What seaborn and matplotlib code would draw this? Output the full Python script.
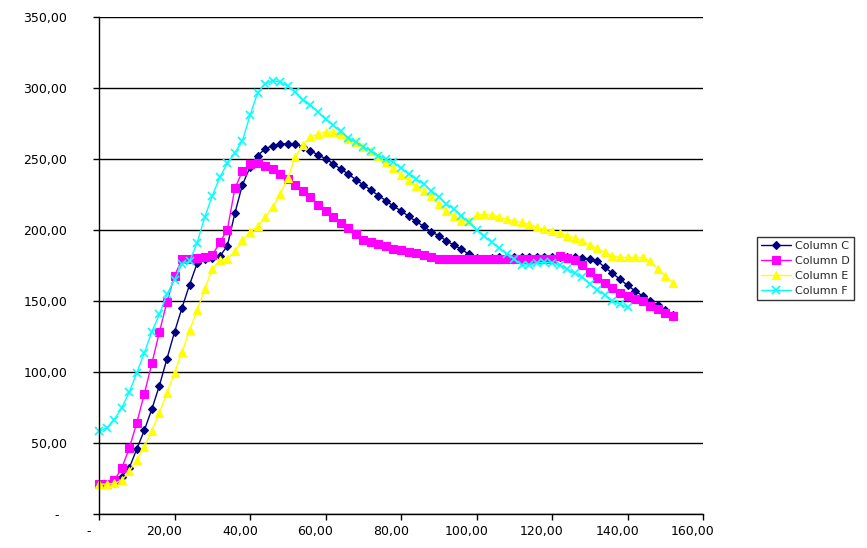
import matplotlib
matplotlib.use("Agg")
import matplotlib.pyplot as plt
from matplotlib.transforms import ScaledTranslation
import seaborn as sns
import pandas as pd

x_cde = [0, 2, 4, 6, 8, 10, 12, 14, 16, 18, 20, 22, 24, 26, 28, 30, 32, 34, 36, 38,
         40, 42, 44, 46, 48, 50, 52, 54, 56, 58, 60, 62, 64, 66, 68, 70, 72, 74, 76, 78,
         80, 82, 84, 86, 88, 90, 92, 94, 96, 98, 100, 102, 104, 106, 108, 110, 112, 114,
         116, 118, 120, 122, 124, 126, 128, 130, 132, 134, 136, 138, 140, 142, 144, 146,
         148, 150, 152]
x_f = x_cde[:71]

col_c = [21.3, 21.3, 22.2, 26.4, 32.3, 45.7, 58.9, 73.9, 90.4, 109.3, 128.1, 145.3, 161.5,
         176.6, 179.9, 180.2, 181.5, 188.8, 211.9, 231.9, 244.2, 252.4, 257.1, 259.5, 260.7,
         260.7, 260.7, 258.3, 255.9, 252.9, 250.3, 246.7, 243.0, 239.5, 235.5, 231.8, 228.2,
         224.2, 220.7, 216.7, 213.6, 209.6, 206.1, 202.5, 198.8, 196.0, 192.4, 189.4, 186.5,
         182.9, 180.1, 179.9, 180.3, 180.8, 181.0, 181.0, 181.0, 181.0, 181.0, 181.0, 181.0,
         181.0, 181.0, 180.7, 180.1, 179.4, 178.3, 173.6, 169.6, 165.3, 161.1, 157.1, 153.6,
         150.0, 147.2, 143.6, 140.1]
col_d = [21.3, 21.3, 23.7, 32.1, 46.2, 64.1, 84.6, 106.0, 128.1, 149.3, 167.7, 179.4, 179.9,
         180.4, 181.3, 182.2, 191.2, 200.2, 229.4, 241.4, 246.5, 247.0, 244.9, 243.0, 239.5,
         236.0, 231.7, 227.7, 223.0, 217.8, 213.6, 209.3, 204.9, 201.1, 197.1, 193.1, 191.2,
         190.0, 188.8, 186.9, 186.0, 184.6, 183.6, 182.4, 181.0, 179.8, 179.8, 179.8, 179.8,
         179.8, 179.8, 179.8, 179.8, 179.8, 179.8, 179.8, 179.8, 179.8, 179.8, 179.8, 179.8,
         182.0, 180.5, 179.0, 175.2, 170.5, 166.5, 162.9, 159.4, 155.8, 153.5, 151.6, 150.0,
         146.4, 144.1, 141.7, 139.4]
col_e = [21.0, 21.0, 21.5, 23.7, 30.0, 38.2, 47.1, 58.7, 71.2, 85.3, 99.4, 114.0, 129.5,
         143.6, 158.2, 172.3, 179.0, 179.9, 184.9, 192.9, 198.3, 202.5, 208.9, 216.0, 225.4,
         236.4, 251.5, 260.0, 265.4, 267.7, 269.0, 269.0, 267.8, 264.2, 261.9, 258.3, 255.9,
         252.0, 247.7, 243.5, 238.8, 235.3, 231.3, 227.7, 223.7, 218.3, 213.6, 210.1, 206.5,
         206.5, 210.5, 211.0, 210.5, 209.0, 207.7, 206.5, 205.3, 204.0, 202.0, 200.6, 199.4,
         197.8, 196.0, 194.5, 192.4, 189.4, 187.0, 184.2, 182.0, 180.7, 180.7, 180.7, 180.7,
         178.3, 172.5, 167.7, 162.9]
col_f = [58.2, 60.5, 66.5, 74.7, 85.7, 99.4, 113.5, 128.4, 140.6, 154.7, 165.0, 176.0, 178.0,
         191.0, 209.0, 224.0, 237.0, 247.0, 254.3, 263.0, 280.7, 296.5, 303.0, 305.2, 304.2,
         301.4, 297.2, 291.5, 288.0, 283.2, 278.0, 273.8, 269.4, 265.0, 261.9, 258.5, 255.9,
         252.4, 250.0, 247.7, 243.6, 239.5, 236.0, 232.4, 227.7, 223.5, 218.3, 214.8, 210.0,
         205.3, 200.3, 195.6, 191.4, 187.2, 183.2, 179.6, 175.4, 175.4, 176.8, 177.3, 176.8,
         175.4, 172.5, 169.5, 167.0, 161.8, 157.8, 154.3, 150.0, 147.7, 145.5]

series_names = ["Column C", "Column D", "Column E", "Column F"]
y_ticks = [0, 50, 100, 150, 200, 250, 300, 350]
x_ticks = [0, 20, 40, 60, 80, 100, 120, 140, 160]

sns.set_style("white")
plt.rcParams["font.family"] = ["DejaVu Sans"]

fig = plt.figure(figsize=(8.67, 5.48), dpi=100)
ax = fig.add_axes([99 / 867, 1 - 514 / 548, 604 / 867, 497 / 548])

styles = [
    dict(color="#000080", marker="D", markersize=4.2, mec="#000080", mew=0.8),
    dict(color="#FF00FF", marker="s", markersize=5.6, mec="#FF00FF", mew=0.8),
    dict(color="#FFFF00", marker="^", markersize=6.2, mec="#FFFF00", mew=0.8),
    dict(color="#00FFFF", marker="x", markersize=5.2, mec="#00FFFF", mew=1.2),
]
data = [(x_cde, col_c), (x_cde, col_d), (x_cde, col_e), (x_f, col_f)]

for name, (xs, ys), st in zip(series_names, data, styles):
    df = pd.DataFrame({"x": xs, "y": ys})
    sns.lineplot(data=df, x="x", y="y", ax=ax, label=name, linewidth=1.0,
                 color=st["color"], marker=st["marker"], markersize=st["markersize"],
                 markeredgecolor=st["mec"], markeredgewidth=st["mew"], clip_on=False)

ax.set_xlim(0, 160)
ax.set_ylim(0, 350)
ax.set_xlabel("")
ax.set_ylabel("")

def fmt(v):
    return "-" if v == 0 else f"{v:.2f}".replace(".", ",")

ax.set_yticks(y_ticks)
ax.set_yticklabels([("-  " if v == 0 else fmt(v)) for v in y_ticks])
ax.set_xticks(x_ticks)
ax.set_xticklabels([fmt(v) for v in x_ticks])

ax.yaxis.grid(True, color="black", linewidth=1.0)
ax.xaxis.grid(False)
ax.set_axisbelow(True)

for s in ["top", "right"]:
    ax.spines[s].set_visible(False)
for s in ["left", "bottom"]:
    ax.spines[s].set_color("black")
    ax.spines[s].set_linewidth(1.0)

ax.tick_params(axis="y", direction="out", length=4.3, width=1.0, color="black",
               pad=18.5, labelsize=9, labelcolor="black", left=True)
ax.tick_params(axis="x", direction="out", length=4.3, width=1.0, color="black",
               pad=3.5, labelsize=9, labelcolor="black", bottom=True)

offset = ScaledTranslation(-10 / 100, 0, fig.dpi_scale_trans)
for lab in ax.xaxis.get_majorticklabels():
    lab.set_transform(lab.get_transform() + offset)

leg = ax.legend(loc="upper left", bbox_to_anchor=(757 / 867, 1 - 237 / 548),
                bbox_transform=fig.transFigure, borderaxespad=0, frameon=True,
                fancybox=False, edgecolor="black", fontsize=8, handlelength=2.7,
                handletextpad=0.4, labelspacing=0.45, borderpad=0.35, numpoints=1)
leg.get_frame().set_linewidth(1.0)

fig.savefig("out.png", dpi=100)
